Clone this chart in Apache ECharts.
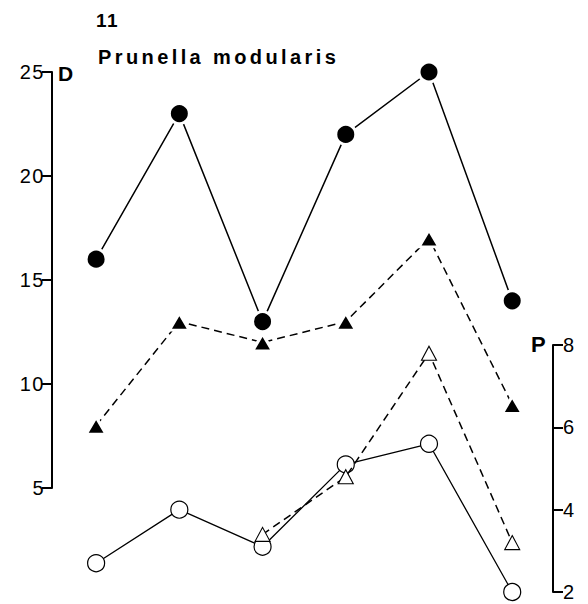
<!DOCTYPE html>
<html><head><meta charset="utf-8">
<script src="https://cdn.jsdelivr.net/npm/echarts@6/dist/echarts.min.js"></script>
<style>html,body{margin:0;padding:0;background:#fff}#c{width:588px;height:604px}</style>
</head><body><div id="c"></div>
<script>
// ---- data ----
const categories = [1, 2, 3, 4, 5, 6];
const dFilledCircle = [16, 23, 13, 22, 25, 14];      // left axis D, solid line
const dFilledTriangle = [8, 13, 12, 13, 17, 9];      // left axis D, dashed line
const pOpenCircle = [2.7, 4.0, 3.1, 5.1, 5.6, 2.0];  // right axis P, solid line
const pOpenTriangle = [null, null, 3.4, 4.8, 7.8, 3.2]; // right axis P, dashed line
const dTicks = [5, 10, 15, 20, 25];
const pTicks = [2, 4, 6, 8];
const figureNumber = '11';
const speciesName = 'Prunella modularis';
const dName = 'D';
const pName = 'P';

const FONT = '"Liberation Sans", Arial, Helvetica, sans-serif';
const pairs = v => categories.map((c, i) => [c, v[i]]);

const chart = echarts.init(document.getElementById('c'), null, {renderer: 'svg'});
const xCommon = {type: 'value', min: 0.47, max: 6.49, show: false};
const yCommon = {
  type: 'value',
  axisLine: {show: true, lineStyle: {color: '#000', width: 2}},
  axisTick: {show: true, inside: false, length: 10, lineStyle: {color: '#000', width: 2}},
  splitLine: {show: false},
  axisLabel: {color: '#000', fontFamily: FONT, fontSize: 20, margin: 7}
};
chart.setOption({
  animation: false,
  backgroundColor: '#fff',
  grid: [
    {left: 52, right: 35, top: 72, height: 416},
    {left: 52, right: 35, top: 345, height: 247}
  ],
  xAxis: [
    Object.assign({gridIndex: 0}, xCommon),
    Object.assign({gridIndex: 1}, xCommon)
  ],
  yAxis: [
    Object.assign({}, yCommon, {gridIndex: 0, position: 'left',
      min: dTicks[0], max: dTicks[dTicks.length - 1], interval: dTicks[1] - dTicks[0]}),
    Object.assign({}, yCommon, {gridIndex: 1, position: 'right',
      min: pTicks[0], max: pTicks[pTicks.length - 1], interval: pTicks[1] - pTicks[0],
      axisLabel: Object.assign({}, yCommon.axisLabel, {fontSize: 20, margin: 10})})
  ],
  graphic: [
    {type: 'text', left: 96, top: 11, style: {text: figureNumber, font: 'bold 19px ' + FONT, fill: '#000'}},
    {type: 'text', left: 98, top: 47, style: {text: speciesName, font: 'bold 20px ' + FONT, fill: '#000'}},
    {type: 'text', left: 58, top: 63, style: {text: dName, font: 'bold 21px ' + FONT, fill: '#000'}},
    {type: 'text', left: 531, top: 333, style: {text: pName, font: 'bold 22px ' + FONT, fill: '#000'}}
  ],
  series: [
    {
      type: 'line', xAxisIndex: 1, yAxisIndex: 1, data: pairs(pOpenCircle),
      symbol: 'circle', symbolSize: 17, showAllSymbol: true,
      itemStyle: {color: '#fff', borderColor: '#000', borderWidth: 1.2},
      lineStyle: {color: '#000', width: 1.3, type: 'solid'},
      emphasis: {disabled: true}, z: 2
    },
    {
      type: 'line', xAxisIndex: 1, yAxisIndex: 1, data: pairs(pOpenTriangle),
      symbol: 'triangle', symbolSize: [15, 14], showAllSymbol: true,
      itemStyle: {color: '#fff', borderColor: '#000', borderWidth: 1.1},
      lineStyle: {color: '#000', width: 1.5, type: [8, 5]},
      emphasis: {disabled: true}, z: 3
    },
    {
      type: 'line', xAxisIndex: 0, yAxisIndex: 0, data: pairs(dFilledTriangle),
      symbol: 'triangle', symbolSize: [20, 17], showAllSymbol: true,
      itemStyle: {color: '#000', borderColor: '#fff', borderWidth: 3},
      lineStyle: {color: '#000', width: 1.5, type: [8, 5]},
      emphasis: {disabled: true}, z: 4
    },
    {
      type: 'line', xAxisIndex: 0, yAxisIndex: 0, data: pairs(dFilledCircle),
      symbol: 'circle', symbolSize: 20, showAllSymbol: true,
      itemStyle: {color: '#000', borderColor: '#fff', borderWidth: 3},
      lineStyle: {color: '#000', width: 1.5, type: 'solid'},
      emphasis: {disabled: true}, z: 5
    }
  ]
});

function spaceText() {
  document.querySelectorAll('#c svg text').forEach(t => {
    if (t.textContent === speciesName) t.setAttribute('letter-spacing', '3.4');
    else if (/^\d+$/.test(t.textContent)) t.setAttribute('letter-spacing', '1.5');
  });
}
spaceText();
chart.on('finished', spaceText);
</script>
</body></html>
